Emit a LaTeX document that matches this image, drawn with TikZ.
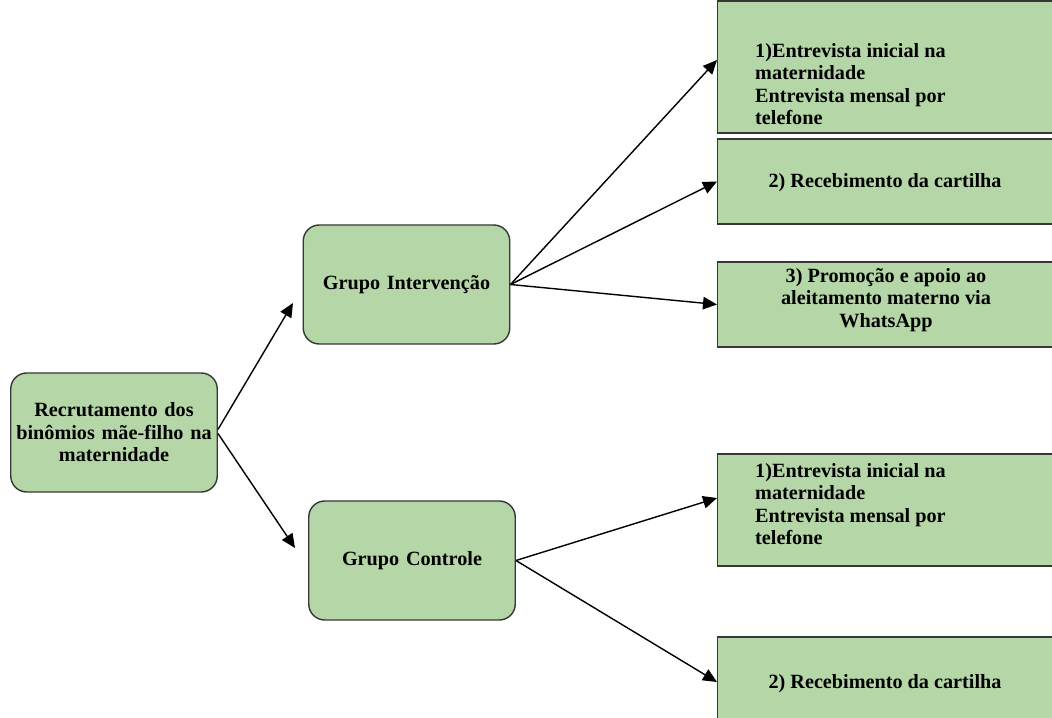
\documentclass[tikz,border=0pt]{standalone}
\usepackage{fontspec}
\setmainfont{Liberation Serif}
\usetikzlibrary{arrows.meta}
\definecolor{boxgreen}{RGB}{181,215,168}
\definecolor{boxline}{RGB}{55,55,55}

\begin{document}
\begin{tikzpicture}[
  font=\fontsize{11.5}{12.8}\selectfont\bfseries,
  sqbox/.style={draw=boxline,fill=boxgreen,line width=0.8pt,minimum width=7cm,anchor=west},
  rdbox/.style={draw=boxline,fill=boxgreen,line width=0.8pt,rounded corners=0.32cm,minimum width=4.13cm,minimum height=2.38cm,text width=4.1cm,inner xsep=0pt,align=center},
  arr/.style={-{Triangle[length=2.8mm,width=2.5mm]},line width=0.8pt,black}
]

\useasboundingbox (0,0) rectangle (21.04,-14.36);

\node[rdbox] (recr) at (2.28,-8.65) {Recrutamento dos\\binômios mãe-filho na\\maternidade};
\node[rdbox] (gint) at (8.13,-5.69) {Grupo Intervenção};
\node[rdbox] (gcon) at (8.24,-11.21) {Grupo Controle};

\node[sqbox,minimum height=2.64cm] (ient) at (14.34,-1.34) {};
\node[sqbox,minimum height=1.7cm] (icar) at (14.34,-3.63) {};
\node[sqbox,minimum height=1.7cm] (izap) at (14.34,-6.09) {};
\node[sqbox,minimum height=2.24cm] (cent) at (14.34,-10.2) {};
\node[sqbox,minimum height=1.8cm] (ccar) at (14.34,-13.64) {};

\node[anchor=west,align=left] (tient) at (14.98,-1.68) {1)Entrevista inicial na\\maternidade\\Entrevista mensal por\\telefone};
\node (ticar) at (17.7,-3.66) {2) Recebimento da cartilha};
\node[align=center] (tizap) at (17.72,-6.0) {3) Promoção e apoio ao\\aleitamento materno via\\WhatsApp};
\node[anchor=west,align=left] (tcent) at (14.98,-10.08) {1)Entrevista inicial na\\maternidade\\Entrevista mensal por\\telefone};
\node (tccar) at (17.7,-13.68) {2) Recebimento da cartilha};

\coordinate (ginin) at (5.86,-6.06);
\coordinate (gconin) at (5.9,-10.96);

\draw[arr] ([yshift=0.06cm]recr.east) -- (ginin);
\draw[arr] ([yshift=-0.02cm]recr.east) -- (gconin);

\draw[arr] (gint.east) -- ([yshift=0.14cm]ient.west);
\draw[arr] (gint.east) -- (icar.west);
\draw[arr] (gint.east) -- (izap.west);

\draw[arr] (gcon.east) -- ([yshift=0.24cm]cent.west);
\draw[arr] (gcon.east) -- (ccar.west);

\end{tikzpicture}
\end{document}
